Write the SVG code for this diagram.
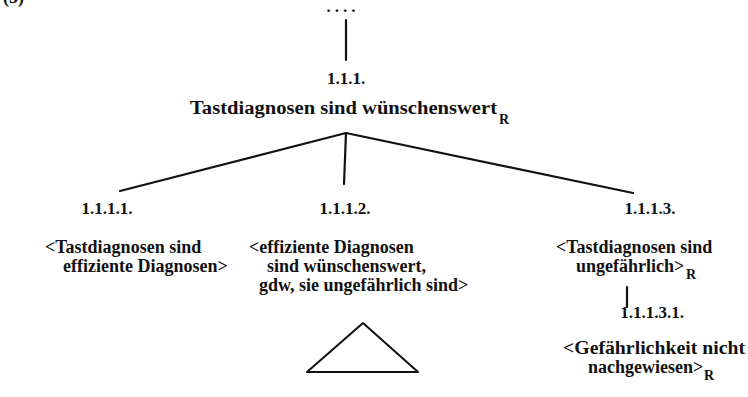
<svg xmlns="http://www.w3.org/2000/svg" width="748" height="397" viewBox="0 0 748 397">
  <style>
    text { font-family: "Liberation Serif", "DejaVu Serif", serif; font-weight: bold; fill: #111; }
    .t { font-size: 18px; }
    .num { font-size: 17px; }
    .sub { font-size: 14px; }
    .edge { stroke: #111; stroke-width: 2.2; fill: none; stroke-linecap: round; }
  </style>
  <rect width="748" height="397" fill="#fff"/>

  <!-- example number, cut at the top edge -->
  <text class="t" x="3" y="3">(3)</text>

  <!-- connectors -->
  <g id="connectors">
    <line class="edge" x1="346" y1="20" x2="346" y2="60"/>
    <line class="edge" x1="346" y1="133" x2="120" y2="191"/>
    <line class="edge" x1="346" y1="133" x2="344" y2="184"/>
    <line class="edge" x1="346" y1="133" x2="633" y2="193"/>
    <line class="edge" x1="627" y1="287" x2="627" y2="307"/>
  </g>

  <g id="n-parent">
    <text class="num" x="343" y="12" text-anchor="middle" letter-spacing="4">....</text>
  </g>

  <g id="n-1-1-1">
    <text class="num" x="346" y="84" text-anchor="middle">1.1.1.</text>
    <text class="t" x="190" y="114" textLength="307" lengthAdjust="spacingAndGlyphs">Tastdiagnosen sind wünschenswert</text>
    <text class="sub" x="499" y="124">R</text>
  </g>

  <g id="n-1-1-1-1">
    <text class="num" x="107" y="214" text-anchor="middle">1.1.1.1.</text>
    <text class="t" x="45" y="253">&lt;Tastdiagnosen sind</text>
    <text class="t" x="63" y="272">effiziente Diagnosen&gt;</text>
  </g>

  <g id="n-1-1-1-2">
    <text class="num" x="345" y="214" text-anchor="middle">1.1.1.2.</text>
    <text class="t" x="249" y="253">&lt;effiziente Diagnosen</text>
    <text class="t" x="267" y="272">sind wünschenswert,</text>
    <text class="t" x="259" y="291">gdw, sie ungefährlich sind&gt;</text>
  </g>

  <!-- collapsed subtree -->
  <g id="n-subtree">
    <polygon points="363,323 307,372 418,372" fill="none" stroke="#111" stroke-width="2" stroke-linejoin="round"/>
  </g>

  <g id="n-1-1-1-3">
    <text class="num" x="650" y="214" text-anchor="middle">1.1.1.3.</text>
    <text class="t" x="556" y="253">&lt;Tastdiagnosen sind</text>
    <text class="t" x="576" y="272">ungefährlich&gt;</text>
    <text class="sub" x="686" y="279">R</text>
  </g>

  <g id="n-1-1-1-3-1">
    <text class="num" x="652" y="318" text-anchor="middle">1.1.1.3.1.</text>
    <text class="t" x="563" y="354" textLength="182" lengthAdjust="spacingAndGlyphs">&lt;Gefährlichkeit nicht</text>
    <text class="t" x="588" y="373">nachgewiesen&gt;</text>
    <text class="sub" x="704" y="380">R</text>
  </g>
</svg>
